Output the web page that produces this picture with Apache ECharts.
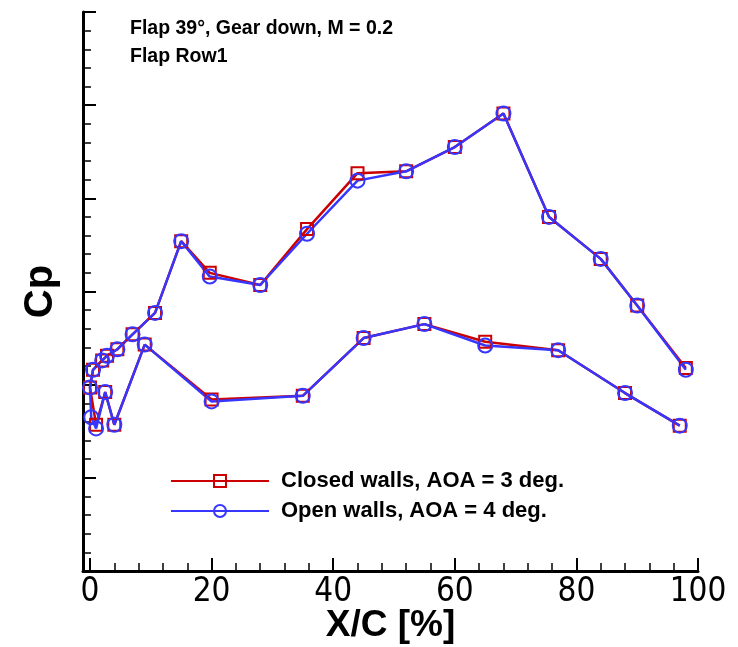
<!DOCTYPE html>
<html>
<head>
<meta charset="utf-8">
<script src="https://cdn.jsdelivr.net/npm/echarts@6/dist/echarts.min.js"></script>
<style>html,body{margin:0;padding:0;background:#fff}#c{width:738px;height:647px}</style>
</head>
<body>
<div id="c"></div>
<script>
// X/C [%] positions and Cp (arbitrary unlabeled units) values, ordered TE(upper) -> LE -> TE(lower)
const closedX = [98, 90, 84, 75.5, 68, 60, 52, 44, 35.7, 28, 19.7, 15, 10.7, 7, 4.5, 2.8, 2, 0.5, 0, 1, 2.5, 4, 9, 20, 35, 45, 55, 65, 77, 88, 97];
const closedY = [2.18, 2.85, 3.35, 3.80, 4.91, 4.55, 4.29, 4.27, 3.67, 3.07, 3.20, 3.54, 2.77, 2.54, 2.38, 2.31, 2.26, 2.16, 1.97, 1.57, 1.92, 1.57, 2.43, 1.84, 1.88, 2.50, 2.65, 2.46, 2.37, 1.91, 1.56];
const openX = [98, 90, 84, 75.5, 68, 60, 52, 44, 35.7, 28, 19.7, 15, 10.7, 7, 4.5, 2.8, 2, 0.5, 0, 0.2, 1, 2.5, 4, 9, 20, 35, 45, 55, 65, 77, 88, 97];
const openY = [2.16, 2.85, 3.35, 3.80, 4.91, 4.55, 4.29, 4.19, 3.62, 3.07, 3.16, 3.54, 2.77, 2.54, 2.38, 2.31, 2.26, 2.16, 1.97, 1.65, 1.53, 1.92, 1.57, 2.43, 1.82, 1.88, 2.50, 2.65, 2.42, 2.37, 1.91, 1.56];
const xMajorTicks = [0, 20, 40, 60, 80, 100];
const xMinorTicks = [4, 8, 12, 16, 24, 28, 32, 36, 44, 48, 52, 56, 64, 68, 72, 76, 84, 88, 92, 96];
const seriesNames = ['Closed walls, AOA = 3 deg.', 'Open walls, AOA = 4 deg.'];

const zip = (xs, ys) => xs.map((x, i) => [x, ys[i]]);
const FONT = 'Liberation Sans, Arial, sans-serif';
const RED = '#cc0000', BLUE = '#3636ff';
const chart = echarts.init(document.getElementById('c'));
chart.setOption({
  animation: false,
  backgroundColor: '#ffffff',
  title: {
    text: 'Flap 39°, Gear down, M = 0.2\nFlap Row1',
    left: 130, top: 15, padding: 0,
    textStyle: { fontFamily: FONT, fontSize: 19.5, fontWeight: 'bold', color: '#000', lineHeight: 28 }
  },
  legend: {
    orient: 'vertical', left: 170, top: 470, padding: 0,
    itemWidth: 98, itemHeight: 15, itemGap: 8,
    textStyle: { fontFamily: FONT, fontSize: 22, fontWeight: 'bold', color: '#000', padding: [0, 0, 0, 7] },
    data: seriesNames
  },
  grid: { left: 83, top: 12, width: 615, bottom: 76, containLabel: false, outerBoundsMode: 'none' },
  xAxis: [{
    type: 'value', min: -1.15, max: 100,
    name: 'X/C [%]', nameLocation: 'middle', nameGap: 36, nameMoveOverlap: false,
    nameTextStyle: { fontFamily: FONT, fontSize: 37, fontWeight: 'bold', color: '#000' },
    axisLine: { onZero: false, lineStyle: { color: '#000', width: 3 } },
    axisTick: { inside: true, length: 13, lineStyle: { color: '#000', width: 2 }, customValues: xMajorTicks },
    axisLabel: { customValues: xMajorTicks, margin: 5, fontFamily: 'DejaVu Sans Condensed, Liberation Sans Narrow, Liberation Sans, sans-serif', fontSize: 33, color: '#000' },
    splitLine: { show: false }
  }, {
    type: 'value', min: -1.15, max: 100, position: 'bottom',
    axisLine: { show: false, onZero: false },
    axisTick: { inside: true, length: 8, lineStyle: { color: '#000', width: 1.5 }, customValues: xMinorTicks },
    axisLabel: { show: false },
    splitLine: { show: false }
  }],
  yAxis: {
    type: 'value', min: 0, max: 6, interval: 1,
    name: 'Cp', nameLocation: 'middle', nameGap: 22, nameRotate: 90, nameMoveOverlap: false,
    nameTextStyle: { fontFamily: FONT, fontSize: 40, fontWeight: 'bold', color: '#000' },
    axisLine: { show: true, onZero: false, lineStyle: { color: '#000', width: 3 } },
    axisTick: { show: true, inside: true, length: 13, lineStyle: { color: '#000', width: 2 } },
    minorTick: { show: true, splitNumber: 5, length: 8, lineStyle: { color: '#000', width: 1.5 } },
    axisLabel: { show: false },
    splitLine: { show: false }
  },
  series: [{
    name: seriesNames[0], type: 'line', data: zip(closedX, closedY),
    symbol: 'rect', symbolSize: 12,
    lineStyle: { color: RED, width: 2.5 },
    itemStyle: { color: 'rgba(0,0,0,0)', borderColor: RED, borderWidth: 2 }
  }, {
    name: seriesNames[1], type: 'line', data: zip(openX, openY),
    symbol: 'circle', symbolSize: 14,
    lineStyle: { color: BLUE, width: 2.5 },
    itemStyle: { color: 'rgba(0,0,0,0)', borderColor: BLUE, borderWidth: 2 }
  }]
});
</script>
</body>
</html>
